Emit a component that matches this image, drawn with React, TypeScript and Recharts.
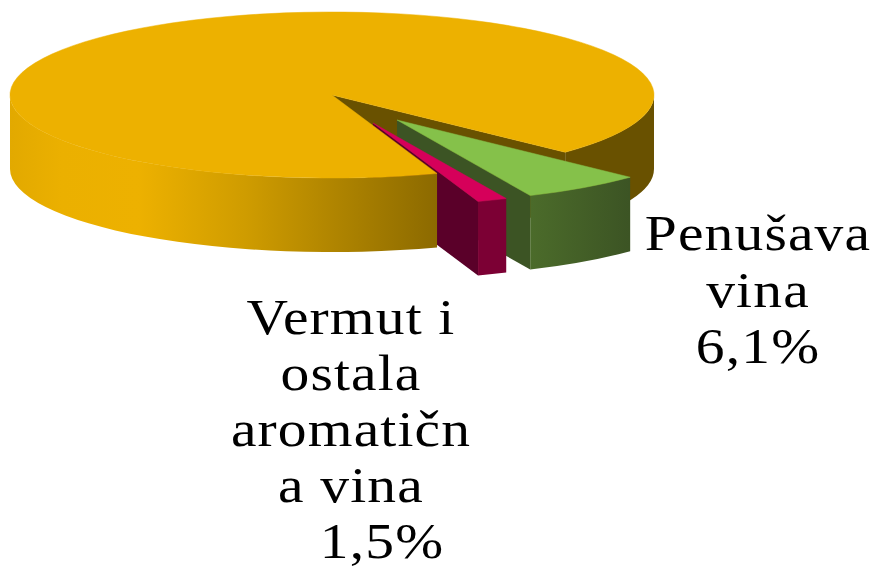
import React from "react";
import { PieChart, Pie } from "recharts";

const categories = ["Penušava vina", "Vermut i ostala aromatična vina", "Mirna vina"];
const values = [6.1, 1.5, 92.4];
const penusavaLines = ["Penušava", "vina", "6,1%"];
const vermutLines = ["Vermut i", "ostala", "aromatičn", "a vina", "1,5%"];

const data = categories.map((name, i) => ({ name, value: values[i] }));

const CX = 332;
const CY = 95;
const RX = 322;
const RY = 83;
const DEPTH = 74;

const looks: Record<string, any> = {
  [categories[0]]: { dx: 65, dy: 25, top: "#85C14A", wall: "url(#greenWall)", face: "#3C5424" },
  [categories[1]]: { dx: 41, dy: 28, top: "#D6005A", wall: "#7C0034", face: "#5A0029" },
  [categories[2]]: { dx: 0, dy: 0, top: "#EDB100", wall: "url(#goldWall)", face: "#695100" },
};

const rad = (a: number) => (a * Math.PI) / 180;

const point = (a: number, dx: number, dy: number, r: number, ry: number) => [
  CX + dx + r * Math.cos(rad(a)),
  CY + dy - ry * Math.sin(rad(a)),
];

// clockwise arc on screen, a1 > a2
const topPath = (a1: number, a2: number, dx: number, dy: number, r: number, ry: number) => {
  const s = point(a1, dx, dy, r, ry);
  const e = point(a2, dx, dy, r, ry);
  const large = Math.abs(a1 - a2) > 180 ? 1 : 0;
  return `M${CX + dx},${CY + dy} L${s[0]},${s[1]} A${r},${ry} 0 ${large} 1 ${e[0]},${e[1]} Z`;
};

const wallPath = (a1: number, a2: number, dx: number, dy: number, r: number, ry: number) => {
  const s = point(a1, dx, dy, r, ry);
  const e = point(a2, dx, dy, r, ry);
  const large = Math.abs(a1 - a2) > 180 ? 1 : 0;
  return `M${s[0]},${s[1]} A${r},${ry} 0 ${large} 1 ${e[0]},${e[1]} L${e[0]},${e[1] + DEPTH} A${r},${ry} 0 ${large} 0 ${s[0]},${s[1] + DEPTH} Z`;
};

const facePath = (a: number, dx: number, dy: number, r: number, ry: number) => {
  const p = point(a, dx, dy, r, ry);
  const ax = CX + dx;
  const ay = CY + dy;
  return `M${ax},${ay} L${p[0]},${p[1]} L${p[0]},${p[1] + DEPTH} L${ax},${ay + DEPTH} Z`;
};

// the part of the big slice that lies behind the pulled out slices
const BackShape = (props: any) => {
  const look = looks[props.name];
  if (props.name !== categories[2]) return <g />;
  const r = props.outerRadius;
  const ry = (r * RY) / RX;
  return (
    <g>
      <path d={facePath(props.endAngle, 0, 0, r, ry)} fill={look.face} />
      <path d={wallPath(-360, props.endAngle, 0, 0, r, ry)} fill={look.face} />
    </g>
  );
};

const FrontShape = (props: any) => {
  const look = looks[props.name];
  const { dx, dy } = look;
  const r = props.outerRadius;
  const ry = (r * RY) / RX;
  const a1 = props.startAngle;
  const a2 = props.endAngle;
  if (props.name === categories[2]) {
    return (
      <g>
        <path d={wallPath(a1, -180, dx, dy, r, ry)} fill={look.wall} />
        <path d={topPath(a1, a2, dx, dy, r, ry)} fill={look.top} stroke={look.top} strokeWidth={0.5} />
      </g>
    );
  }
  return (
    <g>
      <path d={facePath(a2, dx, dy, r, ry)} fill={look.face} />
      <path d={wallPath(a1, a2, dx, dy, r, ry)} fill={look.wall} />
      <path d={topPath(a1, a2, dx, dy, r, ry)} fill={look.top} stroke={look.top} strokeWidth={0.5} />
    </g>
  );
};

const textStyle = {
  fontFamily: "'Liberation Serif', serif",
  fontSize: 50,
  letterSpacing: 1,
  fill: "#000",
};

// the label font is drawn wide in the reference
const WideLine = ({ x, y, line }: { x: number; y: number; line: string }) => (
  <g transform={`translate(${x},${y}) scale(1.15,1)`}>
    <text textAnchor="middle" style={textStyle}>{line}</text>
  </g>
);

const renderLabel = (props: any) => {
  if (props.name === categories[0]) {
    return (
      <g key="penusava">
        {penusavaLines.map((line, i) => (
          <WideLine key={line} x={758} y={250 + i * 56.5} line={line} />
        ))}
      </g>
    );
  }
  if (props.name === categories[1]) {
    return (
      <g key="vermut">
        {vermutLines.map((line, i) => (
          <WideLine key={line} x={i === 4 ? 382 : 351} y={334 + i * 56} line={line} />
        ))}
      </g>
    );
  }
  return <g key="none" />;
};

export default function App() {
  return (
    <div style={{ position: "absolute", left: 0, top: 0, width: 876, height: 566 }}>
      <PieChart width={876} height={566} margin={{ top: 0, right: 0, bottom: 0, left: 0 }}>
        <defs>
          <linearGradient id="goldWall" gradientUnits="userSpaceOnUse" x1="10" y1="0" x2="437" y2="0">
            <stop offset="0" stopColor="#E2A900" />
            <stop offset="0.12" stopColor="#EBB000" />
            <stop offset="0.3" stopColor="#EDB100" />
            <stop offset="0.55" stopColor="#CF9C00" />
            <stop offset="1" stopColor="#8C6A00" />
          </linearGradient>
          <linearGradient id="greenWall" gradientUnits="userSpaceOnUse" x1="531" y1="0" x2="630" y2="0">
            <stop offset="0" stopColor="#4B6B2A" />
            <stop offset="1" stopColor="#3C5424" />
          </linearGradient>
        </defs>
        <Pie
          data={data}
          dataKey="value"
          nameKey="name"
          cx={CX}
          cy={CY}
          outerRadius={RX}
          startAngle={-43.6}
          endAngle={-403.6}
          stroke="none"
          shape={BackShape}
          isAnimationActive={false}
        />
        <Pie
          data={data}
          dataKey="value"
          nameKey="name"
          cx={CX}
          cy={CY}
          outerRadius={RX}
          startAngle={-43.6}
          endAngle={-403.6}
          stroke="none"
          shape={FrontShape}
          label={renderLabel}
          labelLine={false}
          isAnimationActive={false}
        />
      </PieChart>
    </div>
  );
}
